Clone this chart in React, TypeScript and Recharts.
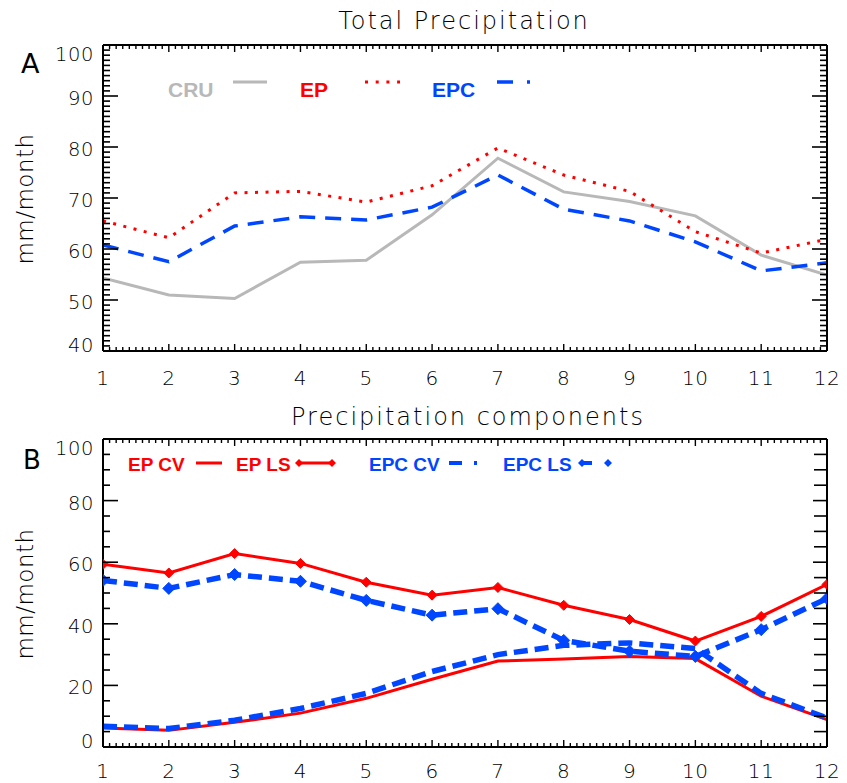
import React from 'react';
import { LineChart, Line, XAxis, YAxis } from 'recharts';

// ---------- data ----------
const months = [1, 2, 3, 4, 5, 6, 7, 8, 9, 10, 11, 12];
const cru = [54.3, 51.0, 50.3, 57.4, 57.8, 66.7, 77.8, 71.2, 69.3, 66.5, 58.8, 54.9];
const ep = [65.5, 62.2, 71.0, 71.3, 69.2, 72.4, 79.8, 74.5, 71.3, 63.4, 59.2, 61.9];
const epc = [60.8, 57.5, 64.5, 66.3, 65.7, 68.2, 74.5, 67.8, 65.5, 61.4, 55.7, 57.3];

const epCv = [6.2, 5.4, 8.0, 11.0, 15.8, 22.0, 27.9, 28.6, 29.4, 28.7, 16.5, 8.9];
const epLs = [59.3, 56.5, 62.8, 59.6, 53.5, 49.3, 51.8, 46.0, 41.4, 34.4, 42.4, 52.8];
const epcCv = [6.7, 6.0, 8.7, 12.5, 17.4, 24.5, 30.0, 33.0, 33.8, 32.0, 17.4, 9.4];
const epcLs = [54.1, 51.5, 56.0, 53.8, 47.6, 42.8, 44.9, 34.6, 31.1, 29.4, 38.1, 48.2];

const xMajor = [1, 2, 3, 4, 5, 6, 7, 8, 9, 10, 11, 12];
const yMajorA = [40, 50, 60, 70, 80, 90, 100];
const yMajorB = [0, 20, 40, 60, 80, 100];

const titleA = 'Total Precipitation';
const titleB = 'Precipitation components';
const yLabel = 'mm/month';

const range = (a: number, b: number, step: number) => {
  const out: number[] = [];
  const n = Math.round((b - a) / step);
  for (let i = 0; i <= n; i++) out.push(Math.round((a + i * step) * 1000) / 1000);
  return out;
};
const xMinor = range(1, 12, 0.1);
const yMinorA = range(40, 100, 1);
const yMinorB = range(0, 100, 5);

const dataA = months.map((m, i) => ({ m, cru: cru[i], ep: ep[i], epc: epc[i] }));
const dataB = months.map((m, i) => ({ m, epCv: epCv[i], epLs: epLs[i], epcCv: epcCv[i], epcLs: epcLs[i] }));

// ---------- styles ----------
const RED = '#ff0000';
const BLUE = '#0046ff';
const GRAY = '#b8b8b8';
const FONT = "'DejaVu Sans', sans-serif";
const LEG_FONT = "'Liberation Sans', Arial, sans-serif";
const AXIS = { stroke: '#000', strokeWidth: 2 };

type Side = 'left' | 'right' | 'top' | 'bottom';

function makeTick(side: Side, majors: number[], majorLen: number, minorLen: number, labels: boolean, dmin: number, dmax: number, xLabelOffset = 34) {
  return (props: any) => {
    const { x, y, payload } = props;
    const v = payload.value as number;
    const isMajor = majors.some((m) => Math.abs(m - v) < 1e-6);
    const len = isMajor ? majorLen : minorLen;
    let line: any = null;
    let label: any = null;
    if (side === 'left') {
      line = <line x1={x} y1={y} x2={x + len} y2={y} stroke="#000" strokeWidth={1.6} />;
      if (labels && isMajor) {
        const dy = Math.abs(v - dmax) < 1e-6 ? 16 : Math.abs(v - dmin) < 1e-6 ? 1 : 9;
        label = (
          <text x={x - 9} y={y + dy} textAnchor="end" fontSize={19.5} fontWeight={200} fontFamily={FONT} fill="#000" letterSpacing={0.6}>
            {v}
          </text>
        );
      }
    } else if (side === 'right') {
      line = <line x1={x} y1={y} x2={x - len} y2={y} stroke="#000" strokeWidth={1.6} />;
    } else if (side === 'top') {
      line = <line x1={x} y1={y} x2={x} y2={y + len} stroke="#000" strokeWidth={1.4} />;
    } else {
      line = <line x1={x} y1={y} x2={x} y2={y - len} stroke="#000" strokeWidth={1.4} />;
      if (labels && isMajor) {
        label = (
          <text x={x} y={y + xLabelOffset} textAnchor="middle" fontSize={20} fontWeight={200} fontFamily={FONT} fill="#000" letterSpacing={0.6}>
            {xMajor.find((m) => Math.abs(m - v) < 1e-6)}
          </text>
        );
      }
    }
    return (
      <g>
        {line}
        {label}
      </g>
    );
  };
}

const diamond = (color: string, r: number) => (props: any) => {
  const { cx, cy, index } = props;
  if (cx == null || cy == null) return <g key={`d${index}`} />;
  return (
    <path
      key={`d${index}`}
      d={`M${cx},${cy - r}L${cx + r},${cy}L${cx},${cy + r}L${cx - r},${cy}Z`}
      fill={color}
      stroke={color}
      strokeWidth={1}
    />
  );
};

export default function App() {
  return (
    <div style={{ position: 'absolute', left: 0, top: 0, width: 847, height: 783, background: '#fff' }}>
      <div style={{ position: 'absolute', left: 0, top: 0 }}>
        <LineChart width={847} height={400} data={dataA} margin={{ top: 40, right: 10, bottom: 19, left: 63 }}>
          <XAxis
            dataKey="m"
            type="number"
            domain={[1, 12]}
            allowDataOverflow
            ticks={xMinor}
            interval={0}
            tickSize={0}
            tickMargin={0}
            height={30}
            axisLine={AXIS}
            tickLine={false}
            tick={makeTick('bottom', xMajor, 7, 4, true, 1, 12, 34)}
          />
          <XAxis
            xAxisId="top"
            orientation="top"
            dataKey="m"
            type="number"
            domain={[1, 12]}
            allowDataOverflow
            ticks={xMinor}
            interval={0}
            tickSize={0}
            tickMargin={0}
            height={5}
            axisLine={AXIS}
            tickLine={false}
            tick={makeTick('top', xMajor, 7, 4, false, 1, 12)}
          />
          <YAxis
            type="number"
            domain={[40, 100]}
            allowDataOverflow
            ticks={yMinorA}
            interval={0}
            tickSize={0}
            tickMargin={0}
            width={40}
            axisLine={AXIS}
            tickLine={false}
            tick={makeTick('left', yMajorA, 15, 7, true, 40, 100)}
          />
          <YAxis
            yAxisId="right"
            orientation="right"
            type="number"
            domain={[40, 100]}
            allowDataOverflow
            ticks={yMinorA}
            interval={0}
            tickSize={0}
            tickMargin={0}
            width={10}
            axisLine={AXIS}
            tickLine={false}
            tick={makeTick('right', yMajorA, 15, 7, false, 40, 100)}
          />
          <Line dataKey="cru" type="linear" stroke={GRAY} strokeWidth={3} dot={false} isAnimationActive={false} />
          <Line dataKey="ep" type="linear" stroke={RED} strokeWidth={3} strokeDasharray="3 7.5" dot={false} isAnimationActive={false} />
          <Line dataKey="epc" type="linear" stroke={BLUE} strokeWidth={3.5} strokeDasharray="16 10" dot={false} isAnimationActive={false} />
        </LineChart>
      </div>

      <div style={{ position: 'absolute', left: 0, top: 400 }}>
        <LineChart width={847} height={383} data={dataB} margin={{ top: 34, right: 10, bottom: 6, left: 63 }}>
          <XAxis
            dataKey="m"
            type="number"
            domain={[1, 12]}
            allowDataOverflow
            ticks={xMinor}
            interval={0}
            tickSize={0}
            tickMargin={0}
            height={30}
            axisLine={AXIS}
            tickLine={false}
            tick={makeTick('bottom', xMajor, 7, 4, true, 1, 12, 31)}
          />
          <XAxis
            xAxisId="top"
            orientation="top"
            dataKey="m"
            type="number"
            domain={[1, 12]}
            allowDataOverflow
            ticks={xMinor}
            interval={0}
            tickSize={0}
            tickMargin={0}
            height={5}
            axisLine={AXIS}
            tickLine={false}
            tick={makeTick('top', xMajor, 7, 4, false, 1, 12)}
          />
          <YAxis
            type="number"
            domain={[0, 100]}
            allowDataOverflow
            ticks={yMinorB}
            interval={0}
            tickSize={0}
            tickMargin={0}
            width={40}
            axisLine={AXIS}
            tickLine={false}
            tick={makeTick('left', yMajorB, 15, 7, true, 0, 100)}
          />
          <YAxis
            yAxisId="right"
            orientation="right"
            type="number"
            domain={[0, 100]}
            allowDataOverflow
            ticks={yMinorB}
            interval={0}
            tickSize={0}
            tickMargin={0}
            width={10}
            axisLine={AXIS}
            tickLine={false}
            tick={makeTick('right', yMajorB, 14, 13, false, 0, 100)}
          />
          <Line dataKey="epCv" type="linear" stroke={RED} strokeWidth={3} dot={false} isAnimationActive={false} />
          <Line dataKey="epcCv" type="linear" stroke={BLUE} strokeWidth={5.5} strokeDasharray="14 7" dot={false} isAnimationActive={false} />
          <Line dataKey="epLs" type="linear" stroke={RED} strokeWidth={3} dot={diamond(RED, 5)} isAnimationActive={false} />
          <Line dataKey="epcLs" type="linear" stroke={BLUE} strokeWidth={5.5} strokeDasharray="14 7" dot={diamond(BLUE, 6)} isAnimationActive={false} />
        </LineChart>
      </div>

      <svg width={847} height={783} style={{ position: 'absolute', left: 0, top: 0, pointerEvents: 'none' }}>
        <g fontFamily={FONT}>
          <text x={464} y={29} textAnchor="middle" fontSize={24} fontWeight={200} letterSpacing={2} fill="#000">
            {titleA}
          </text>
          <text x={468} y={425} textAnchor="middle" fontSize={24} fontWeight={200} letterSpacing={2} fill="#000">
            {titleB}
          </text>
          <text x={21} y={73} fontSize={27} fill="#000">A</text>
          <text x={23} y={469} fontSize={26} fill="#000">B</text>
          <text transform="translate(33,199) rotate(-90)" textAnchor="middle" fontSize={23} fontWeight={200} letterSpacing={0.5} fill="#000">
            {yLabel}
          </text>
          <text transform="translate(33,594) rotate(-90)" textAnchor="middle" fontSize={23} fontWeight={200} letterSpacing={0.5} fill="#000">
            {yLabel}
          </text>
        </g>

        {/* Legend A */}
        <g fontSize={21} fontWeight="bold" fontFamily={LEG_FONT}>
          <text x={168} y={97} fill={GRAY}>CRU</text>
          <line x1={233} y1={82} x2={267} y2={82} stroke={GRAY} strokeWidth={3} />
          <text x={300} y={97} fill={RED}>EP</text>
          <line x1={365} y1={82} x2={400} y2={82} stroke={RED} strokeWidth={3} strokeDasharray="3 7.7" />
          <text x={432} y={97} fill={BLUE}>EPC</text>
          <line x1={497} y1={82} x2={513} y2={82} stroke={BLUE} strokeWidth={3.5} />
          <line x1={527} y1={82} x2={530} y2={82} stroke={BLUE} strokeWidth={3.5} />
        </g>

        {/* Legend B */}
        <g fontSize={19} fontWeight="bold" fontFamily={LEG_FONT}>
          <text x={128} y={471} fill={RED}>EP CV</text>
          <line x1={196} y1={463} x2={222} y2={463} stroke={RED} strokeWidth={3} />
          <text x={236} y={471} fill={RED}>EP LS</text>
          <line x1={299} y1={463} x2={332} y2={463} stroke={RED} strokeWidth={3} />
          <path d="M299,459L303,463L299,467L295,463Z" fill={RED} />
          <path d="M332,459L336,463L332,467L328,463Z" fill={RED} />
          <text x={369} y={471} fill={BLUE}>EPC CV</text>
          <line x1={449} y1={463} x2={462} y2={463} stroke={BLUE} strokeWidth={4} />
          <line x1={474} y1={463} x2={477} y2={463} stroke={BLUE} strokeWidth={4} />
          <text x={503} y={471} fill={BLUE}>EPC LS</text>
          <line x1={582} y1={463} x2={592} y2={463} stroke={BLUE} strokeWidth={4} />
          <path d="M582,459L586,463L582,467L578,463Z" fill={BLUE} />
          <path d="M608,459L612,463L608,467L604,463Z" fill={BLUE} />
        </g>
      </svg>
    </div>
  );
}
